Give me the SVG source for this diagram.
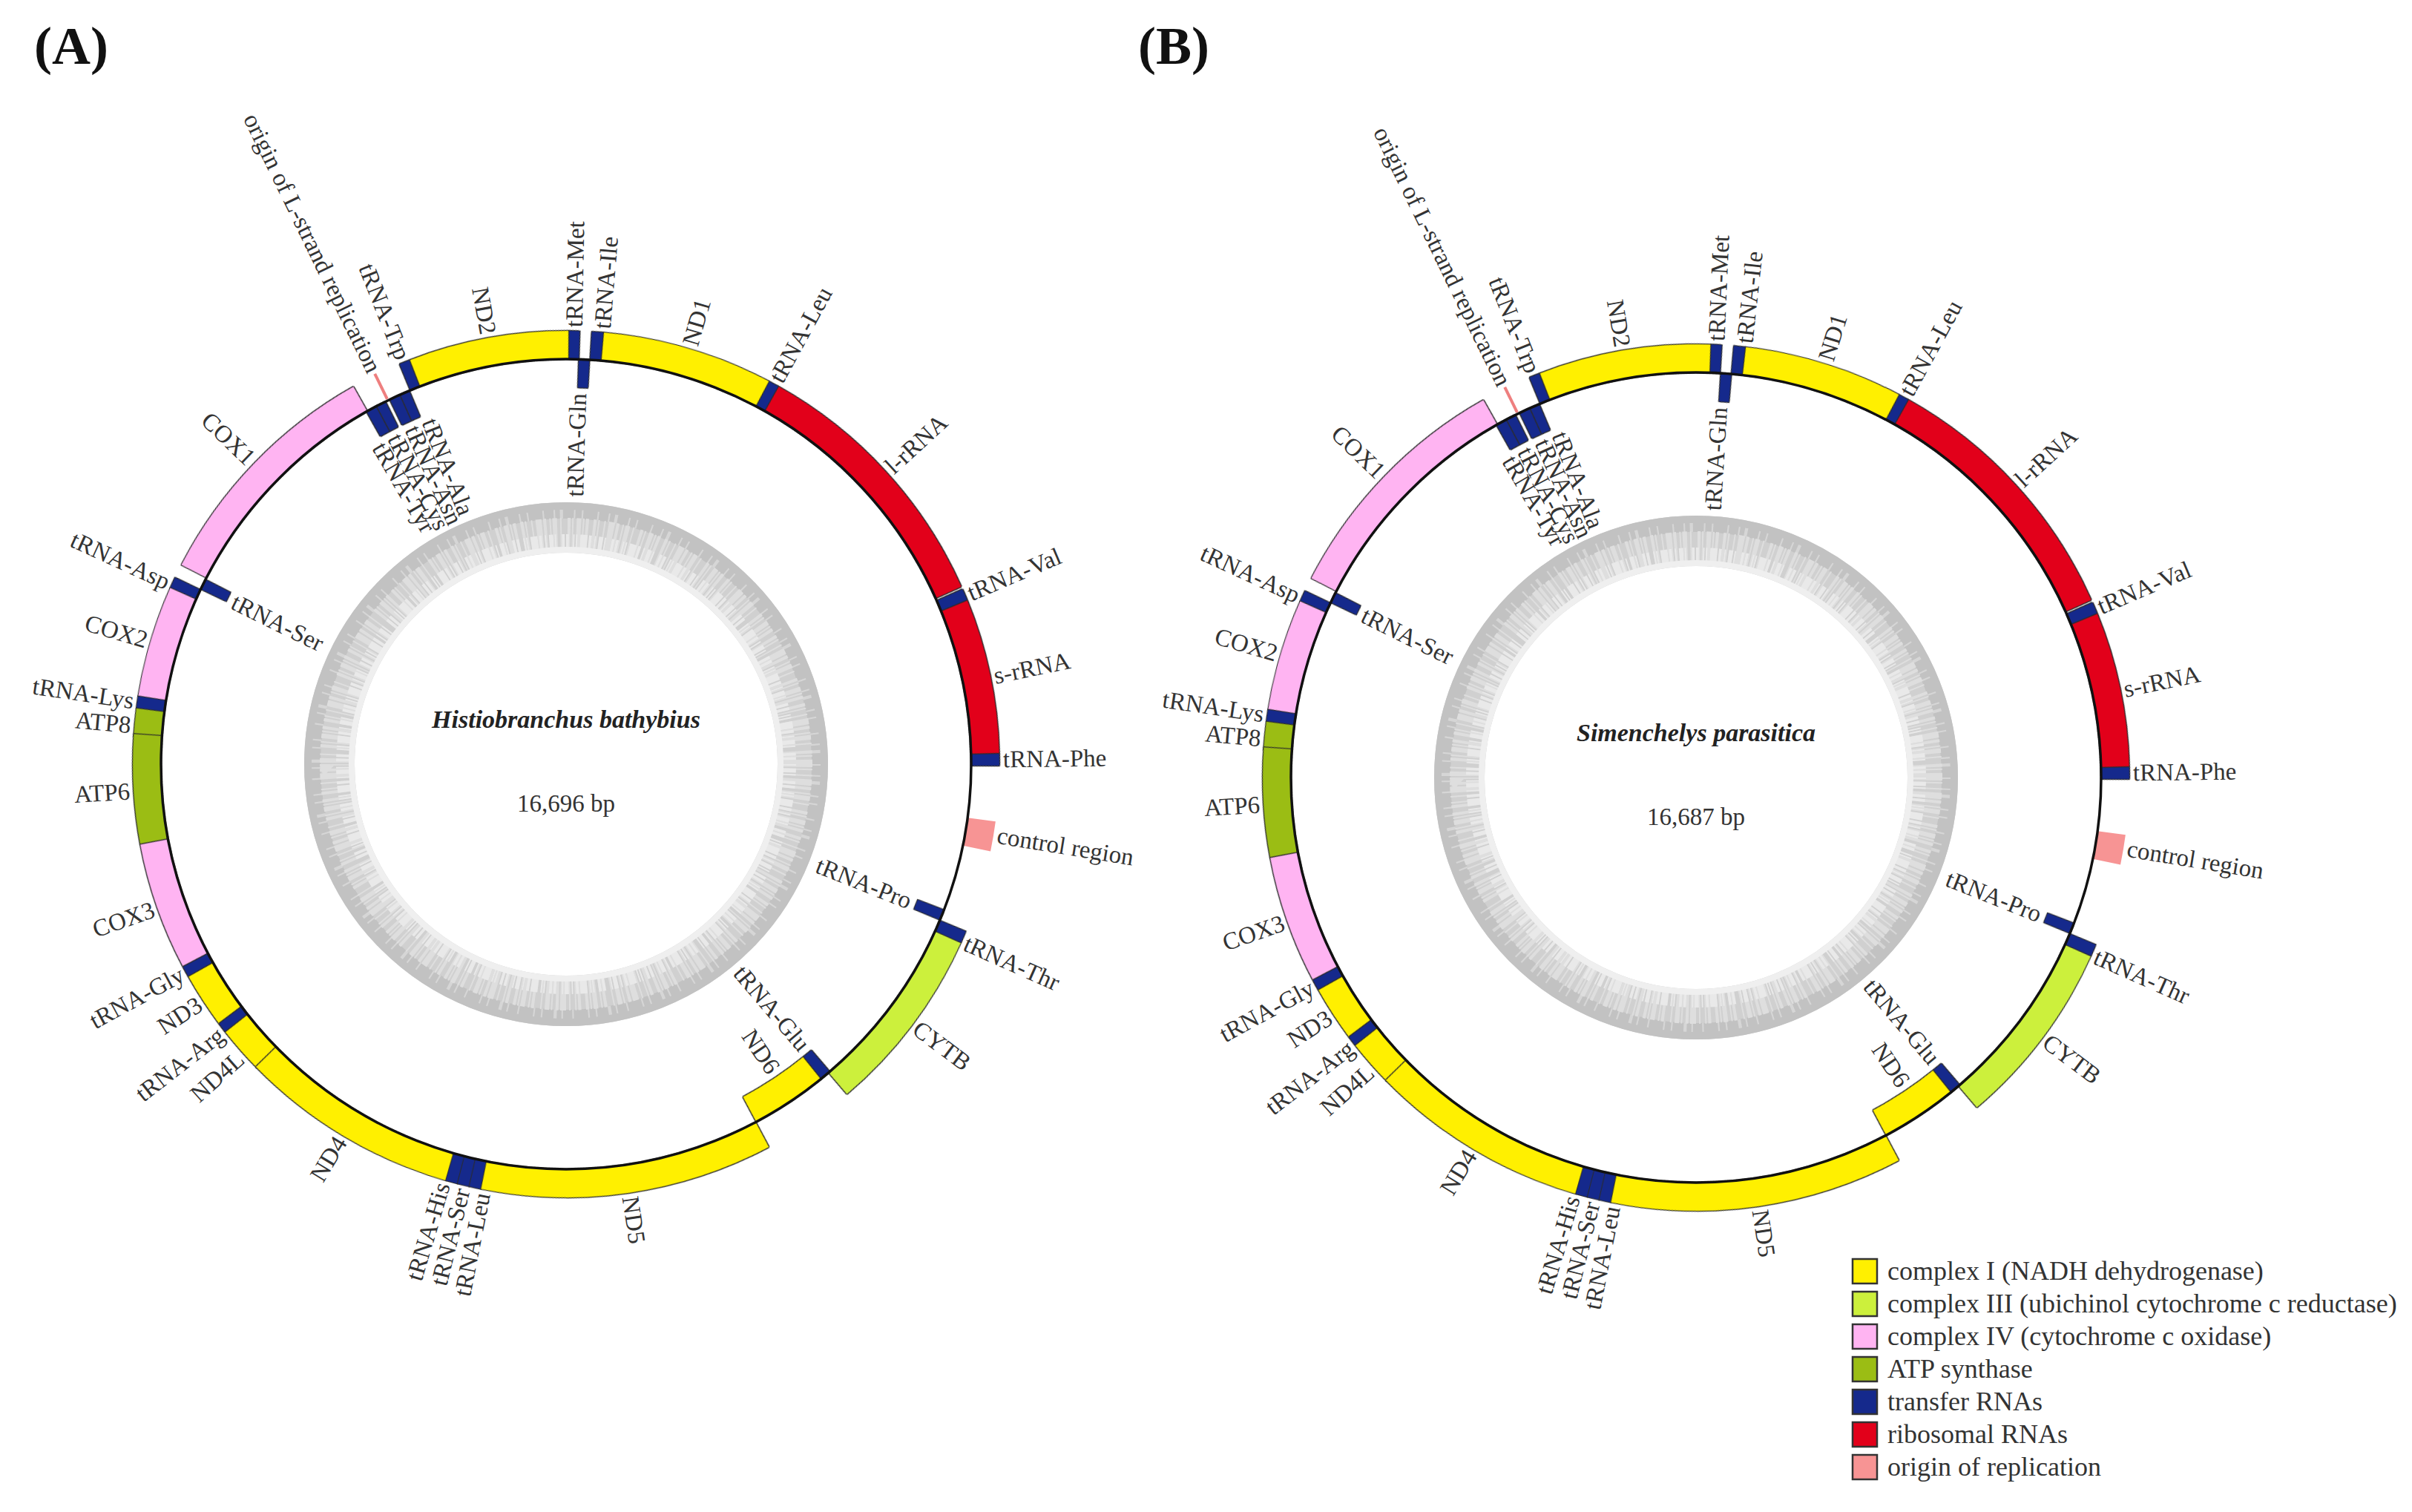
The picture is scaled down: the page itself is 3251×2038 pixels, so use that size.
<svg xmlns="http://www.w3.org/2000/svg" xmlns:xlink="http://www.w3.org/1999/xlink" width="3251" height="2038" viewBox="0 0 3251 2038">
<style>
text{font-family:"Liberation Serif","Times New Roman",serif;fill:#333}
.lb{font-size:33px}
.s{text-anchor:start}
.e{text-anchor:end}
.bar{fill:none;filter:url(#ol)}
.y{stroke:#fff000}.g{stroke:#ccf03c}.p{stroke:#ffb4f2}.a{stroke:#9bbd14}.t{stroke:#15298c}.r{stroke:#e2001a}.o{stroke:#f79494}
.ring{fill:none}
.ttl{font-size:72px;font-weight:bold;fill:#111}
.sp{font-size:34px;font-weight:bold;font-style:italic;text-anchor:middle;fill:#222}
.bp{font-size:33px;text-anchor:middle}
.lg{font-size:36px}
.box{stroke:#333;stroke-width:2.5}
</style>
<defs>
<filter id="ol" x="-0.1" y="-0.1" width="1.2" height="1.2" color-interpolation-filters="sRGB">
<feMorphology in="SourceAlpha" operator="dilate" radius="1.5" result="d"/>
<feFlood flood-color="#2b2b2b"/>
<feComposite in2="d" operator="in"/>
<feMerge><feMergeNode/><feMergeNode in="SourceGraphic"/></feMerge>
</filter>
<g id="mapbase">
<g id="gc">
<circle class="ring" r="319" stroke="#d0d0d0" stroke-width="68"/>
<circle class="ring" r="342" stroke="#c2c2c2" stroke-width="22"/>
<circle class="ring" r="337" stroke="#d6d6d6" stroke-width="12" pathLength="1000" stroke-dasharray="1 6 1 3 2 7 1 4 1 9"/>
<circle class="ring" r="311" stroke="#dedede" stroke-width="42" pathLength="1000" stroke-dasharray="2 1 1 3 1 2 4 1 2 2 1 1 3 2 1 4 2 1 1 2 3 1 1 1 2 3"/>
<circle class="ring" r="298" stroke="#e9e9e9" stroke-width="24" pathLength="1000" stroke-dasharray="1 2 3 1 1 4 2 1 2 3 1 1 1 2 5 1 2 2"/>
<circle class="ring" r="289" stroke="#efefef" stroke-width="8"/>
</g>
<g id="bars" transform="rotate(15)">
<circle class="bar t" r="565" stroke-width="38" pathLength="360" stroke-dasharray="1.7 400" stroke-dashoffset="-343.5"/>
<circle class="bar r" r="565" stroke-width="38" pathLength="360" stroke-dasharray="20.8 400" stroke-dashoffset="-322.7"/>
<circle class="bar t" r="565" stroke-width="38" pathLength="360" stroke-dasharray="1.5 400" stroke-dashoffset="-321.2"/>
<circle class="bar r" r="565" stroke-width="38" pathLength="360" stroke-dasharray="36.5 400" stroke-dashoffset="-284.3"/>
<circle class="bar t" r="565" stroke-width="38" pathLength="360" stroke-dasharray="1.4 400" stroke-dashoffset="-282.9"/>
<circle class="bar t" r="565" stroke-width="38" pathLength="360" stroke-dasharray="1.5 400" stroke-dashoffset="-232.4"/>
<circle class="bar p" r="565" stroke-width="38" pathLength="360" stroke-dasharray="33.2 400" stroke-dashoffset="-192.4"/>
<circle class="bar t" r="565" stroke-width="38" pathLength="360" stroke-dasharray="1.5 400" stroke-dashoffset="-189"/>
<circle class="bar p" r="565" stroke-width="38" pathLength="360" stroke-dasharray="15 400" stroke-dashoffset="-174"/>
<circle class="bar t" r="565" stroke-width="38" pathLength="360" stroke-dasharray="1.6 400" stroke-dashoffset="-172.4"/>
<circle class="bar a" r="565" stroke-width="38" pathLength="360" stroke-dasharray="3.7 400" stroke-dashoffset="-168.7"/>
<circle class="bar a" r="565" stroke-width="38" pathLength="360" stroke-dasharray="14.7 400" stroke-dashoffset="-154.3"/>
<circle class="bar p" r="565" stroke-width="38" pathLength="360" stroke-dasharray="17.2 400" stroke-dashoffset="-137.1"/>
<circle class="bar t" r="565" stroke-width="38" pathLength="360" stroke-dasharray="1.5 400" stroke-dashoffset="-135.6"/>
<circle class="bar y" r="565" stroke-width="38" pathLength="360" stroke-dasharray="7.4 400" stroke-dashoffset="-128.2"/>
<circle class="bar t" r="565" stroke-width="38" pathLength="360" stroke-dasharray="1.4 400" stroke-dashoffset="-126.8"/>
<circle class="bar y" r="565" stroke-width="38" pathLength="360" stroke-dasharray="6.4 400" stroke-dashoffset="-120.4"/>
<circle class="bar y" r="565" stroke-width="38" pathLength="360" stroke-dasharray="29.6 400" stroke-dashoffset="-91.1"/>
<circle class="bar t" r="565" stroke-width="38" pathLength="360" stroke-dasharray="1.6 400" stroke-dashoffset="-89.5"/>
<circle class="bar t" r="565" stroke-width="38" pathLength="360" stroke-dasharray="1.6 400" stroke-dashoffset="-87.9"/>
<circle class="bar t" r="565" stroke-width="38" pathLength="360" stroke-dasharray="1.6 400" stroke-dashoffset="-86.3"/>
<circle class="bar y" r="565" stroke-width="38" pathLength="360" stroke-dasharray="39.2 400" stroke-dashoffset="-47.1"/>
<circle class="bar g" r="565" stroke-width="38" pathLength="360" stroke-dasharray="25.3 400" stroke-dashoffset="-9.3"/>
<circle class="bar t" r="565" stroke-width="38" pathLength="360" stroke-dasharray="1.6 400" stroke-dashoffset="-7.7"/>
<circle class="ring o" r="565" stroke-width="38" pathLength="360" stroke-dasharray="4 400" stroke-dashoffset="-352.6"/>
<circle class="bar t" r="527" stroke-width="38" pathLength="360" stroke-dasharray="1.5 400" stroke-dashoffset="-230.7"/>
<circle class="bar t" r="527" stroke-width="38" pathLength="360" stroke-dasharray="1.5 400" stroke-dashoffset="-229.2"/>
<circle class="bar t" r="527" stroke-width="38" pathLength="360" stroke-dasharray="1.5 400" stroke-dashoffset="-227"/>
<circle class="bar t" r="527" stroke-width="38" pathLength="360" stroke-dasharray="1.5 400" stroke-dashoffset="-225.5"/>
<circle class="bar t" r="527" stroke-width="38" pathLength="360" stroke-dasharray="1.5 400" stroke-dashoffset="-190.6"/>
<circle class="bar y" r="527" stroke-width="38" pathLength="360" stroke-dasharray="11.1 400" stroke-dashoffset="-35.9"/>
<circle class="bar t" r="527" stroke-width="38" pathLength="360" stroke-dasharray="1.5 400" stroke-dashoffset="-34.4"/>
<circle class="bar t" r="527" stroke-width="38" pathLength="360" stroke-dasharray="1.5 400" stroke-dashoffset="-6.1"/>
</g>
</g>
<g id="maptop">
<line x1="0" y1="-548" x2="0" y2="-586" stroke="#ee7f7f" stroke-width="4" transform="rotate(-26.1)"/>
<circle r="546" fill="none" stroke="#111" stroke-width="3.5"/>
<g class="lb">
<text class="s" x="589" dy=".35em" transform="rotate(-61.4)">tRNA-Leu</text>
<text class="s" x="589" dy=".35em" transform="rotate(-42.5)">l-rRNA</text>
<text class="s" x="589" dy=".35em" transform="rotate(-23)">tRNA-Val</text>
<text class="s" x="589" dy=".35em" transform="rotate(-11.7)">s-rRNA</text>
<text class="s" x="589" dy=".35em" transform="rotate(-0.7)">tRNA-Phe</text>
<text class="s" x="589" dy=".35em" transform="rotate(9.3)">control region</text>
<text class="s" x="589" dy=".35em" transform="rotate(24)">tRNA-Thr</text>
<text class="s" x="589" dy=".35em" transform="rotate(36.8)">CYTB</text>
<text class="s" x="589" dy=".35em" transform="rotate(81.5)">ND5</text>
<text class="e" x="-589" dy=".35em" transform="rotate(64.1)">origin of L-strand replication</text>
<text class="e" x="-589" dy=".35em" transform="rotate(68.2)">tRNA-Trp</text>
<text class="e" x="-589" dy=".35em" transform="rotate(44)">COX1</text>
<text class="e" x="-589" dy=".35em" transform="rotate(24.6)">tRNA-Asp</text>
<text class="e" x="-589" dy=".35em" transform="rotate(16.5)">COX2</text>
<text class="e" x="-589" dy=".35em" transform="rotate(8.4)">tRNA-Lys</text>
<text class="e" x="-589" dy=".35em" transform="rotate(5.2)">ATP8</text>
<text class="e" x="-589" dy=".35em" transform="rotate(-3.5)">ATP6</text>
<text class="e" x="-589" dy=".35em" transform="rotate(-19.3)">COX3</text>
<text class="e" x="-589" dy=".35em" transform="rotate(-28.5)">tRNA-Gly</text>
<text class="e" x="-589" dy=".35em" transform="rotate(-33)">ND3</text>
<text class="e" x="-589" dy=".35em" transform="rotate(-37.8)">tRNA-Arg</text>
<text class="e" x="-589" dy=".35em" transform="rotate(-41.8)">ND4L</text>
<text class="e" x="-589" dy=".35em" transform="rotate(-58.9)">ND4</text>
<text class="e" x="-589" dy=".35em" transform="rotate(-73.5)">tRNA-His</text>
<text class="e" x="-589" dy=".35em" transform="rotate(-76.2)">tRNA-Ser</text>
<text class="e" x="-589" dy=".35em" transform="rotate(-78.9)">tRNA-Leu</text>
<text class="e" x="500" dy=".35em" transform="rotate(21.7)">tRNA-Pro</text>
<text class="e" x="500" dy=".35em" transform="rotate(49.8)">tRNA-Glu</text>
<text class="e" x="500" dy=".35em" transform="rotate(55.8)">ND6</text>
<text class="s" x="-500" dy=".35em" transform="rotate(68.4)">tRNA-Ala</text>
<text class="s" x="-500" dy=".35em" transform="rotate(65.5)">tRNA-Asn</text>
<text class="s" x="-500" dy=".35em" transform="rotate(62.5)">tRNA-Cys</text>
<text class="s" x="-500" dy=".35em" transform="rotate(59.7)">tRNA-Tyr</text>
<text class="s" x="-500" dy=".35em" transform="rotate(26.2)">tRNA-Ser</text>
</g>
</g>
</defs>
<rect width="3251" height="2038" fill="#fff"/>
<text class="ttl" x="46" y="86">(A)</text>
<text class="ttl" x="1534" y="86">(B)</text>
<g id="mapA">
<use xlink:href="#mapbase" href="#mapbase" transform="translate(763,1030)"/>
<g transform="translate(763,1030) rotate(15)">
<circle class="bar y" r="565" stroke-width="38" pathLength="360" stroke-dasharray="23 400" stroke-dashoffset="-259.9"/>
<circle class="bar t" r="565" stroke-width="38" pathLength="360" stroke-dasharray="1.5 400" stroke-dashoffset="-258.4"/>
<circle class="bar t" r="565" stroke-width="38" pathLength="360" stroke-dasharray="1.5 400" stroke-dashoffset="-255.3"/>
<circle class="bar y" r="565" stroke-width="38" pathLength="360" stroke-dasharray="21.4 400" stroke-dashoffset="-233.9"/>
<circle class="bar t" r="527" stroke-width="38" pathLength="360" stroke-dasharray="1.5 400" stroke-dashoffset="-256.8"/>
</g>
<use xlink:href="#maptop" href="#maptop" transform="translate(763,1030)"/>
<g class="lb" transform="translate(763,1030)">
<text class="s" x="589" dy=".35em" transform="rotate(-89)">tRNA-Met</text>
<text class="s" x="589" dy=".35em" transform="rotate(-85.3)">tRNA-Ile</text>
<text class="s" x="589" dy=".35em" transform="rotate(-73.6)">ND1</text>
<text class="e" x="-589" dy=".35em" transform="rotate(79.8)">ND2</text>
<text class="e" x="500" dy=".35em" transform="rotate(-88.2)">tRNA-Gln</text>
</g>
<text class="sp" x="763" y="981">Histiobranchus bathybius</text>
<text class="bp" x="763" y="1094">16,696 bp</text>
</g>
<g id="mapB">
<use xlink:href="#mapbase" href="#mapbase" transform="translate(2286,1048)"/>
<g transform="translate(2286,1048) rotate(15)">
<circle class="bar y" r="565" stroke-width="38" pathLength="360" stroke-dasharray="21.4 400" stroke-dashoffset="-261.5"/>
<circle class="bar t" r="565" stroke-width="38" pathLength="360" stroke-dasharray="1.5 400" stroke-dashoffset="-260"/>
<circle class="bar t" r="565" stroke-width="38" pathLength="360" stroke-dasharray="1.5 400" stroke-dashoffset="-256.9"/>
<circle class="bar y" r="565" stroke-width="38" pathLength="360" stroke-dasharray="23 400" stroke-dashoffset="-233.9"/>
<circle class="bar t" r="527" stroke-width="38" pathLength="360" stroke-dasharray="1.5 400" stroke-dashoffset="-258.5"/>
</g>
<use xlink:href="#maptop" href="#maptop" transform="translate(2286,1048)"/>
<g class="lb" transform="translate(2286,1048)">
<text class="s" x="589" dy=".35em" transform="rotate(-87.4)">tRNA-Met</text>
<text class="s" x="589" dy=".35em" transform="rotate(-83.7)">tRNA-Ile</text>
<text class="s" x="589" dy=".35em" transform="rotate(-72.8)">ND1</text>
<text class="e" x="-589" dy=".35em" transform="rotate(80.4)">ND2</text>
<text class="e" x="500" dy=".35em" transform="rotate(-86.5)">tRNA-Gln</text>
</g>
<text class="sp" x="2286" y="999">Simenchelys parasitica</text>
<text class="bp" x="2286" y="1112">16,687 bp</text>
</g>
<g id="legend">
<rect class="box" x="2497" y="1697" width="33" height="33" fill="#fff000"/>
<rect class="box" x="2497" y="1741" width="33" height="33" fill="#ccf03c"/>
<rect class="box" x="2497" y="1785" width="33" height="33" fill="#ffb4f2"/>
<rect class="box" x="2497" y="1829" width="33" height="33" fill="#9bbd14"/>
<rect class="box" x="2497" y="1873" width="33" height="33" fill="#15298c"/>
<rect class="box" x="2497" y="1917" width="33" height="33" fill="#e2001a"/>
<rect class="box" x="2497" y="1961" width="33" height="33" fill="#f79494"/>
<text class="lg" x="2544" y="1725">complex I (NADH dehydrogenase)</text>
<text class="lg" x="2544" y="1769">complex III (ubichinol cytochrome c reductase)</text>
<text class="lg" x="2544" y="1813">complex IV (cytochrome c oxidase)</text>
<text class="lg" x="2544" y="1857">ATP synthase</text>
<text class="lg" x="2544" y="1901">transfer RNAs</text>
<text class="lg" x="2544" y="1945">ribosomal RNAs</text>
<text class="lg" x="2544" y="1989">origin of replication</text>
</g>
</svg>
